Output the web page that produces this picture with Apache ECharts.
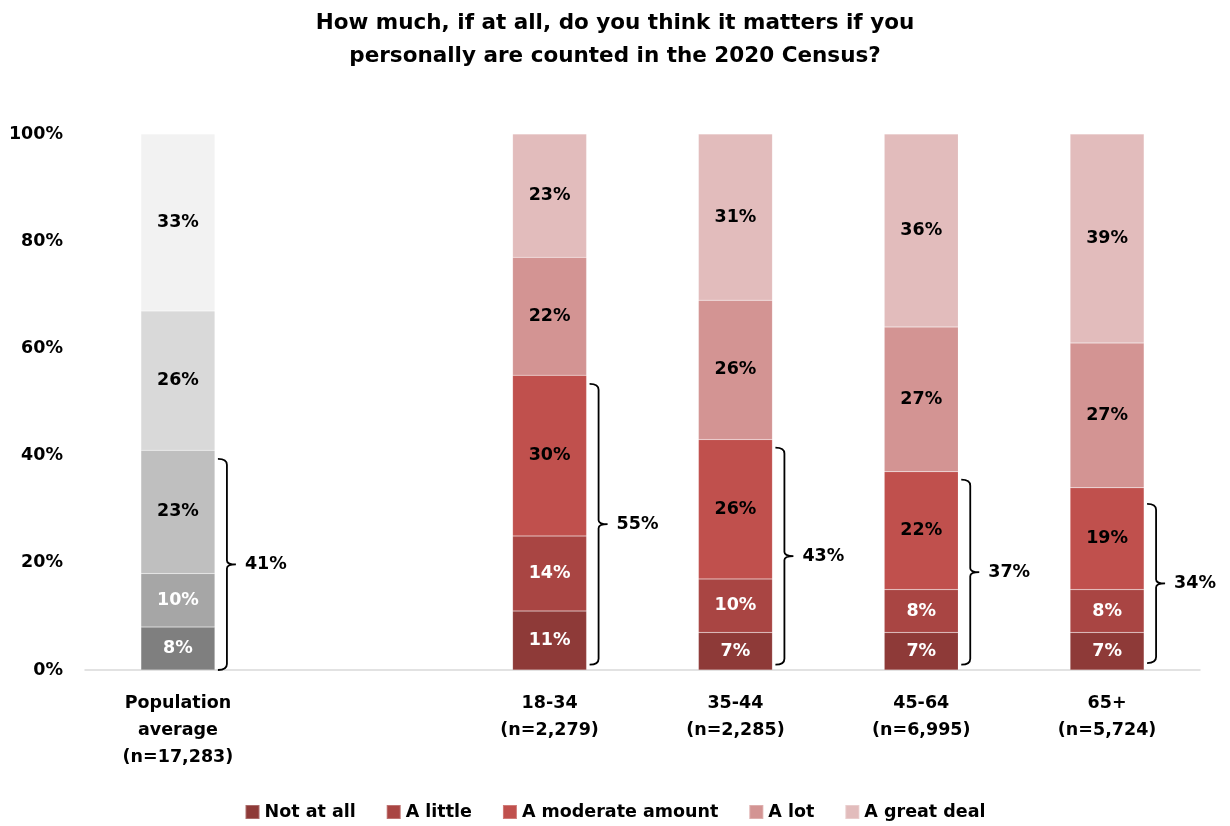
<!DOCTYPE html>
<html><head><meta charset="utf-8">
<script src="https://cdn.jsdelivr.net/npm/echarts@6/dist/echarts.min.js"></script>
<style>html,body{margin:0;padding:0;background:#fff}#c{width:1230px;height:826px}</style>
</head><body><div id="c"></div>
<script>
var categories = ['Population\naverage\n(n=17,283)', '', '18-34\n(n=2,279)', '35-44\n(n=2,285)', '45-64\n(n=6,995)', '65+\n(n=5,724)'];
var seriesNames = ['Not at all', 'A little', 'A moderate amount', 'A lot', 'A great deal'];
var notAtAll   = [8, null, 11, 7, 7, 7];
var aLittle    = [10, null, 14, 10, 8, 8];
var moderate   = [23, null, 30, 26, 22, 19];
var aLot       = [26, null, 22, 26, 27, 27];
var greatDeal  = [33, null, 23, 31, 36, 39];
var bracketIndex = [0, 2, 3, 4, 5];
var bracketLow   = [0, 1, 1, 1, 1.3];
var bracketHigh  = [39.4, 53.4, 41.5, 35.5, 31];
var bracketTotal = ['41%', '55%', '43%', '37%', '34%'];
var yTicks = [0, 20, 40, 60, 80, 100];

var redColors  = ['#8E3A38', '#A94543', '#C0504D', '#D39493', '#E2BCBC'];
var grayColors = ['#7F7F7F', '#A6A6A6', '#BFBFBF', '#D9D9D9', '#F2F2F2'];
var labelColors = ['#fff', '#fff', '#000', '#000', '#000'];
var FONT = '"DejaVu Sans"';
var FS = 17.5;

var values = [notAtAll, aLittle, moderate, aLot, greatDeal];
var series = values.map(function (arr, si) {
  return {
    name: seriesNames[si], type: 'bar', stack: 'all', barWidth: 74,
    itemStyle: { color: redColors[si], borderColor: 'rgba(255,255,255,0.25)', borderWidth: 0.5 },
    label: { show: true, position: 'inside', formatter: '{c}%', color: labelColors[si],
             fontFamily: FONT, fontWeight: 'bold', fontSize: FS },
    data: arr.map(function (v, i) {
      if (i === 0) return { value: v, itemStyle: { color: grayColors[si] } };
      return v;
    })
  };
});

var bracketData = bracketIndex.map(function (c, i) {
  return [c, bracketLow[i], bracketHigh[i], bracketTotal[i]];
});
series.push({
  type: 'custom', name: 'brackets', silent: true, z: 5,
  encode: { x: 0, y: [1, 2] },
  data: bracketData,
  renderItem: function (params, api) {
    var c = api.value(0);
    var pLow = api.coord([c, api.value(1)]);
    var pHigh = api.coord([c, api.value(2)]);
    var x = pLow[0] + 37 + 12;
    var y0 = pLow[1], y1 = pHigh[1], ym = (y0 + y1) / 2;
    var d = 'M' + (x - 9) + ' ' + y1 + ' Q' + x + ' ' + y1 + ' ' + x + ' ' + (y1 + 6) +
            ' L' + x + ' ' + (ym - 4) + ' Q' + x + ' ' + ym + ' ' + (x + 9) + ' ' + ym +
            ' Q' + x + ' ' + ym + ' ' + x + ' ' + (ym + 4) +
            ' L' + x + ' ' + (y0 - 6) + ' Q' + x + ' ' + y0 + ' ' + (x - 9) + ' ' + y0;
    return {
      type: 'group',
      children: [
        { type: 'path', shape: { pathData: d }, style: { fill: 'none', stroke: '#000', lineWidth: 1.8 } },
        { type: 'text', style: { text: api.value(3), x: x + 18, y: ym, fill: '#000',
            font: 'bold ' + FS + 'px ' + FONT, align: 'left', verticalAlign: 'middle' } }
      ]
    };
  }
});

var chart = echarts.init(document.getElementById('c'), null, { renderer: 'canvas' });
chart.setOption({
  animation: false,
  title: {
    text: 'How much, if at all, do you think it matters if you\npersonally are counted in the 2020 Census?',
    left: 'center', top: 2,
    textStyle: { fontFamily: FONT, fontWeight: 'bold', fontSize: 21.5, lineHeight: 33, color: '#000' }
  },
  legend: {
    bottom: 0, left: 'center', icon: 'rect', itemWidth: 14, itemHeight: 14, itemGap: 30,
    data: seriesNames,
    textStyle: { fontFamily: FONT, fontWeight: 'bold', fontSize: FS, color: '#000' }
  },
  grid: { left: 85, right: 30, top: 134, bottom: 156 },
  xAxis: {
    type: 'category', data: categories,
    axisLine: { lineStyle: { color: '#D9D9D9', width: 1.5 } },
    axisTick: { show: false },
    axisLabel: { interval: 0, margin: 20, fontFamily: FONT, fontWeight: 'bold', fontSize: FS, lineHeight: 27, color: '#000' }
  },
  yAxis: {
    type: 'value', min: yTicks[0], max: yTicks[yTicks.length - 1], interval: 20,
    axisLine: { show: false }, axisTick: { show: false }, splitLine: { show: false },
    axisLabel: { formatter: '{value}%', margin: 22, fontFamily: FONT, fontWeight: 'bold', fontSize: FS, color: '#000' }
  },
  series: series
});
</script></body></html>
